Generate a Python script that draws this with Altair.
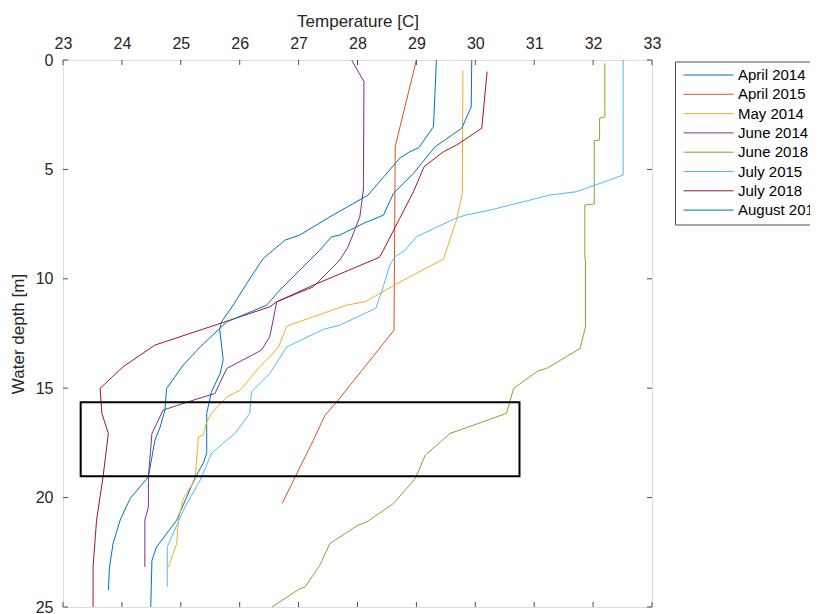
import altair as alt
import pandas as pd

# ---- data (temperature [C], water depth [m]) ----
series_names = ["April 2014", "April 2015", "May 2014", "June 2014",
                "June 2018", "July 2015", "July 2018", "August 2018"]
series_colors = ["#0072BD", "#D95319", "#EDB120", "#7E2F8E",
                 "#77AC30", "#4DBEEE", "#A2142F", "#0072BD"]

apr14_t = [29.34, 29.29, 29.04, 28.89, 28.72, 28.47, 28.18, 27.53, 27.02, 26.77, 26.57, 26.40,
           26.12, 25.89, 25.69, 25.66, 25.72, 25.67, 25.52, 25.44, 25.44, 25.38, 25.24, 25.10,
           24.93, 24.59, 24.51, 24.49]
apr14_d = [0.0, 3.05, 4.01, 4.19, 4.48, 5.26, 6.17, 7.17, 8.0, 8.23, 8.69, 9.07,
           10.21, 11.2, 11.97, 12.3, 13.7, 14.31, 15.17, 16.15, 17.97, 18.43, 19.11, 19.97,
           21.03, 22.25, 22.86, 25.0]

apr15_t = [29.0, 28.64, 28.62, 27.65, 27.45, 27.25, 26.97, 26.72]
apr15_d = [0.0, 3.96, 12.35, 15.62, 16.23, 17.38, 18.9, 20.27]

may14_t = [29.79, 29.78, 29.68, 29.51, 29.46, 28.78, 28.13, 27.82, 26.80, 26.66, 26.51, 26.34,
           26.01, 25.78, 25.52, 25.44, 25.38, 25.30, 25.24, 25.04, 24.96, 24.93, 24.79]
may14_d = [0.49, 6.1, 7.32, 8.69, 9.1, 10.06, 11.05, 11.2, 12.16, 13.11, 13.57, 14.02,
           15.09, 15.4, 16.15, 16.54, 17.15, 17.22, 19.2, 20.04, 21.03, 22.1, 23.17]

jun14_t = [27.90, 28.11, 28.10, 28.04, 27.84, 27.70, 27.25, 26.63, 26.51, 26.37, 25.78, 25.58,
           25.21, 24.70, 24.51, 24.45, 24.45, 24.39, 24.39]
jun14_d = [0.0, 0.99, 5.94, 7.17, 8.54, 9.14, 10.37, 11.05, 12.65, 13.26, 14.1, 15.24,
           15.55, 16.0, 17.07, 19.05, 20.43, 21.03, 23.17]

jun18_t = [32.20, 32.20, 32.11, 32.11, 32.02, 32.02, 31.86, 31.86, 31.87, 31.87, 31.78, 31.21,
           31.07, 30.65, 30.53, 29.57, 29.15, 28.98, 28.61, 28.16, 28.01, 27.53, 27.36, 27.11,
           27.0, 26.51]
jun18_d = [0.15, 2.59, 2.67, 3.66, 3.69, 6.58, 6.63, 9.07, 9.14, 12.2, 13.18, 14.1,
           14.2, 15.01, 16.15, 17.07, 18.06, 19.13, 20.27, 21.11, 21.26, 22.1, 23.09, 24.08,
           24.2, 25.07]

jul15_t = [32.51, 32.51, 31.72, 31.27, 30.25, 29.83, 29.66, 29.0, 28.81, 28.64, 28.55, 28.47,
           28.41, 28.31, 27.70, 27.42, 26.80, 26.51, 26.20, 26.17, 25.92, 25.78, 25.52, 25.33,
           25.07, 24.82, 24.77, 24.77]
jul15_d = [0.0, 5.26, 6.02, 6.17, 6.86, 7.09, 7.24, 8.08, 8.69, 8.99, 9.37, 10.06,
           10.59, 11.35, 12.12, 12.31, 13.11, 14.33, 15.17, 16.15, 17.07, 17.38, 17.98, 19.2,
           20.43, 21.95, 22.25, 24.08]

jul18_t = [30.20, 30.11, 29.68, 29.46, 29.13, 28.95, 28.44, 28.37, 27.25, 26.63, 26.51, 25.67,
           24.56, 24.02, 23.63, 23.66, 23.77, 23.68, 23.57, 23.51, 23.51]
jul18_d = [0.53, 3.12, 3.89, 4.19, 4.88, 6.02, 8.69, 9.02, 10.29, 11.05, 11.28, 12.04,
           13.03, 14.02, 15.01, 16.15, 17.07, 19.05, 21.03, 23.17, 25.05]

aug18_t = [29.94, 29.93, 29.77, 29.32, 28.95, 28.61, 28.44, 28.10, 27.70, 27.56, 27.36, 26.68,
           26.46, 25.78, 25.33, 25.04, 24.76, 24.73, 24.65, 24.56, 24.45, 24.14, 23.97, 23.85,
           23.79, 23.77]
aug18_d = [0.0, 2.14, 3.12, 3.96, 5.18, 6.1, 7.09, 7.47, 8.0, 8.08, 8.69, 10.52,
           11.2, 11.97, 13.11, 13.95, 15.01, 16.0, 16.77, 17.38, 19.05, 20.04, 21.03, 22.1,
           23.17, 24.23]

box_t = [23.3, 30.75]
box_d = [15.64, 19.02]

x_ticks = list(range(23, 34))
y_ticks = [0, 5, 10, 15, 20, 25]

# ---- build tables ----
profiles = [(apr14_t, apr14_d), (apr15_t, apr15_d), (may14_t, may14_d), (jun14_t, jun14_d),
            (jun18_t, jun18_d), (jul15_t, jul15_d), (jul18_t, jul18_d), (aug18_t, aug18_d)]
rows = []
for name, (ts, ds) in zip(series_names, profiles):
    for i, (t, d) in enumerate(zip(ts, ds)):
        rows.append({"series": name, "temp": t, "depth": d, "i": i})
df = pd.DataFrame(rows)
box_df = pd.DataFrame({"t1": [box_t[0]], "t2": [box_t[1]], "d1": [box_d[0]], "d2": [box_d[1]]})
xt_df = pd.DataFrame({"t": x_ticks})
yt_df = pd.DataFrame({"d": y_ticks})

W, H = 589, 547
FONT = "Liberation Sans"
AX = "#4d4d4d"

xscale = alt.Scale(domain=[23, 33], nice=False, zero=False)
yscale = alt.Scale(domain=[0, 25], reverse=True, nice=False, zero=False)

x_axis = alt.Axis(orient="top", values=x_ticks, format="d", ticks=False, domain=False,
                  grid=False, labelFlush=False,
                  labelFontSize=16, labelFont=FONT, labelColor="#262626", labelPadding=9,
                  title="Temperature [C]", titleFont=FONT, titleFontSize=17,
                  titleFontWeight="normal", titleColor="#262626", titlePadding=5)
y_axis = alt.Axis(values=y_ticks, format="d", ticks=False, domain=False, grid=False,
                  labelFlush=False,
                  labelFontSize=16, labelFont=FONT, labelColor="#262626", labelPadding=10,
                  title="Water depth [m]", titleFont=FONT, titleFontSize=17,
                  titleFontWeight="normal", titleColor="#262626", titlePadding=8)

lines = alt.Chart(df).mark_line(strokeWidth=1, clip=True).encode(
    x=alt.X("temp:Q", scale=xscale, axis=x_axis),
    y=alt.Y("depth:Q", scale=yscale, axis=y_axis),
    stroke=alt.Stroke("series:N",
                      scale=alt.Scale(domain=series_names, range=series_colors),
                      sort=series_names,
                      legend=alt.Legend(orient="none", legendX=612, legendY=1.5, title=None,
                                        symbolType="M-1,0H9", symbolSize=100,
                                        symbolStrokeWidth=1, labelFontSize=15, labelFont=FONT,
                                        labelColor="#000000", strokeColor=AX, fillColor="white",
                                        padding=6, rowPadding=3.3, labelOffset=42,
                                        labelLimit=300)),
    detail="series:N",
    order="i:Q",
)

box = alt.Chart(box_df).mark_rect(fill=None, stroke="black", strokeWidth=2).encode(
    x=alt.X("t1:Q", scale=xscale), x2="t2:Q",
    y=alt.Y("d1:Q", scale=yscale), y2="d2:Q",
)

top_ticks = alt.Chart(xt_df).mark_rule(color=AX, strokeWidth=1).encode(
    x=alt.X("t:Q", scale=xscale), y=alt.value(0), y2=alt.value(5))
bot_ticks = alt.Chart(xt_df).mark_rule(color=AX, strokeWidth=1).encode(
    x=alt.X("t:Q", scale=xscale), y=alt.value(H - 5), y2=alt.value(H))
left_ticks = alt.Chart(yt_df).mark_rule(color=AX, strokeWidth=1).encode(
    y=alt.Y("d:Q", scale=yscale), x=alt.value(0), x2=alt.value(5))
right_ticks = alt.Chart(yt_df).mark_rule(color=AX, strokeWidth=1).encode(
    y=alt.Y("d:Q", scale=yscale), x=alt.value(W - 5), x2=alt.value(W))

chart = alt.layer(lines, box, top_ticks, bot_ticks, left_ticks, right_ticks).properties(
    width=W, height=H,
    autosize=alt.AutoSizeParams(type="none"),
    padding={"left": 55, "top": 52, "right": 158, "bottom": 7},
).configure_view(stroke=AX, strokeWidth=1).configure(background="white")

chart.save("out.html", embed_options={"renderer": "svg", "actions": False})
